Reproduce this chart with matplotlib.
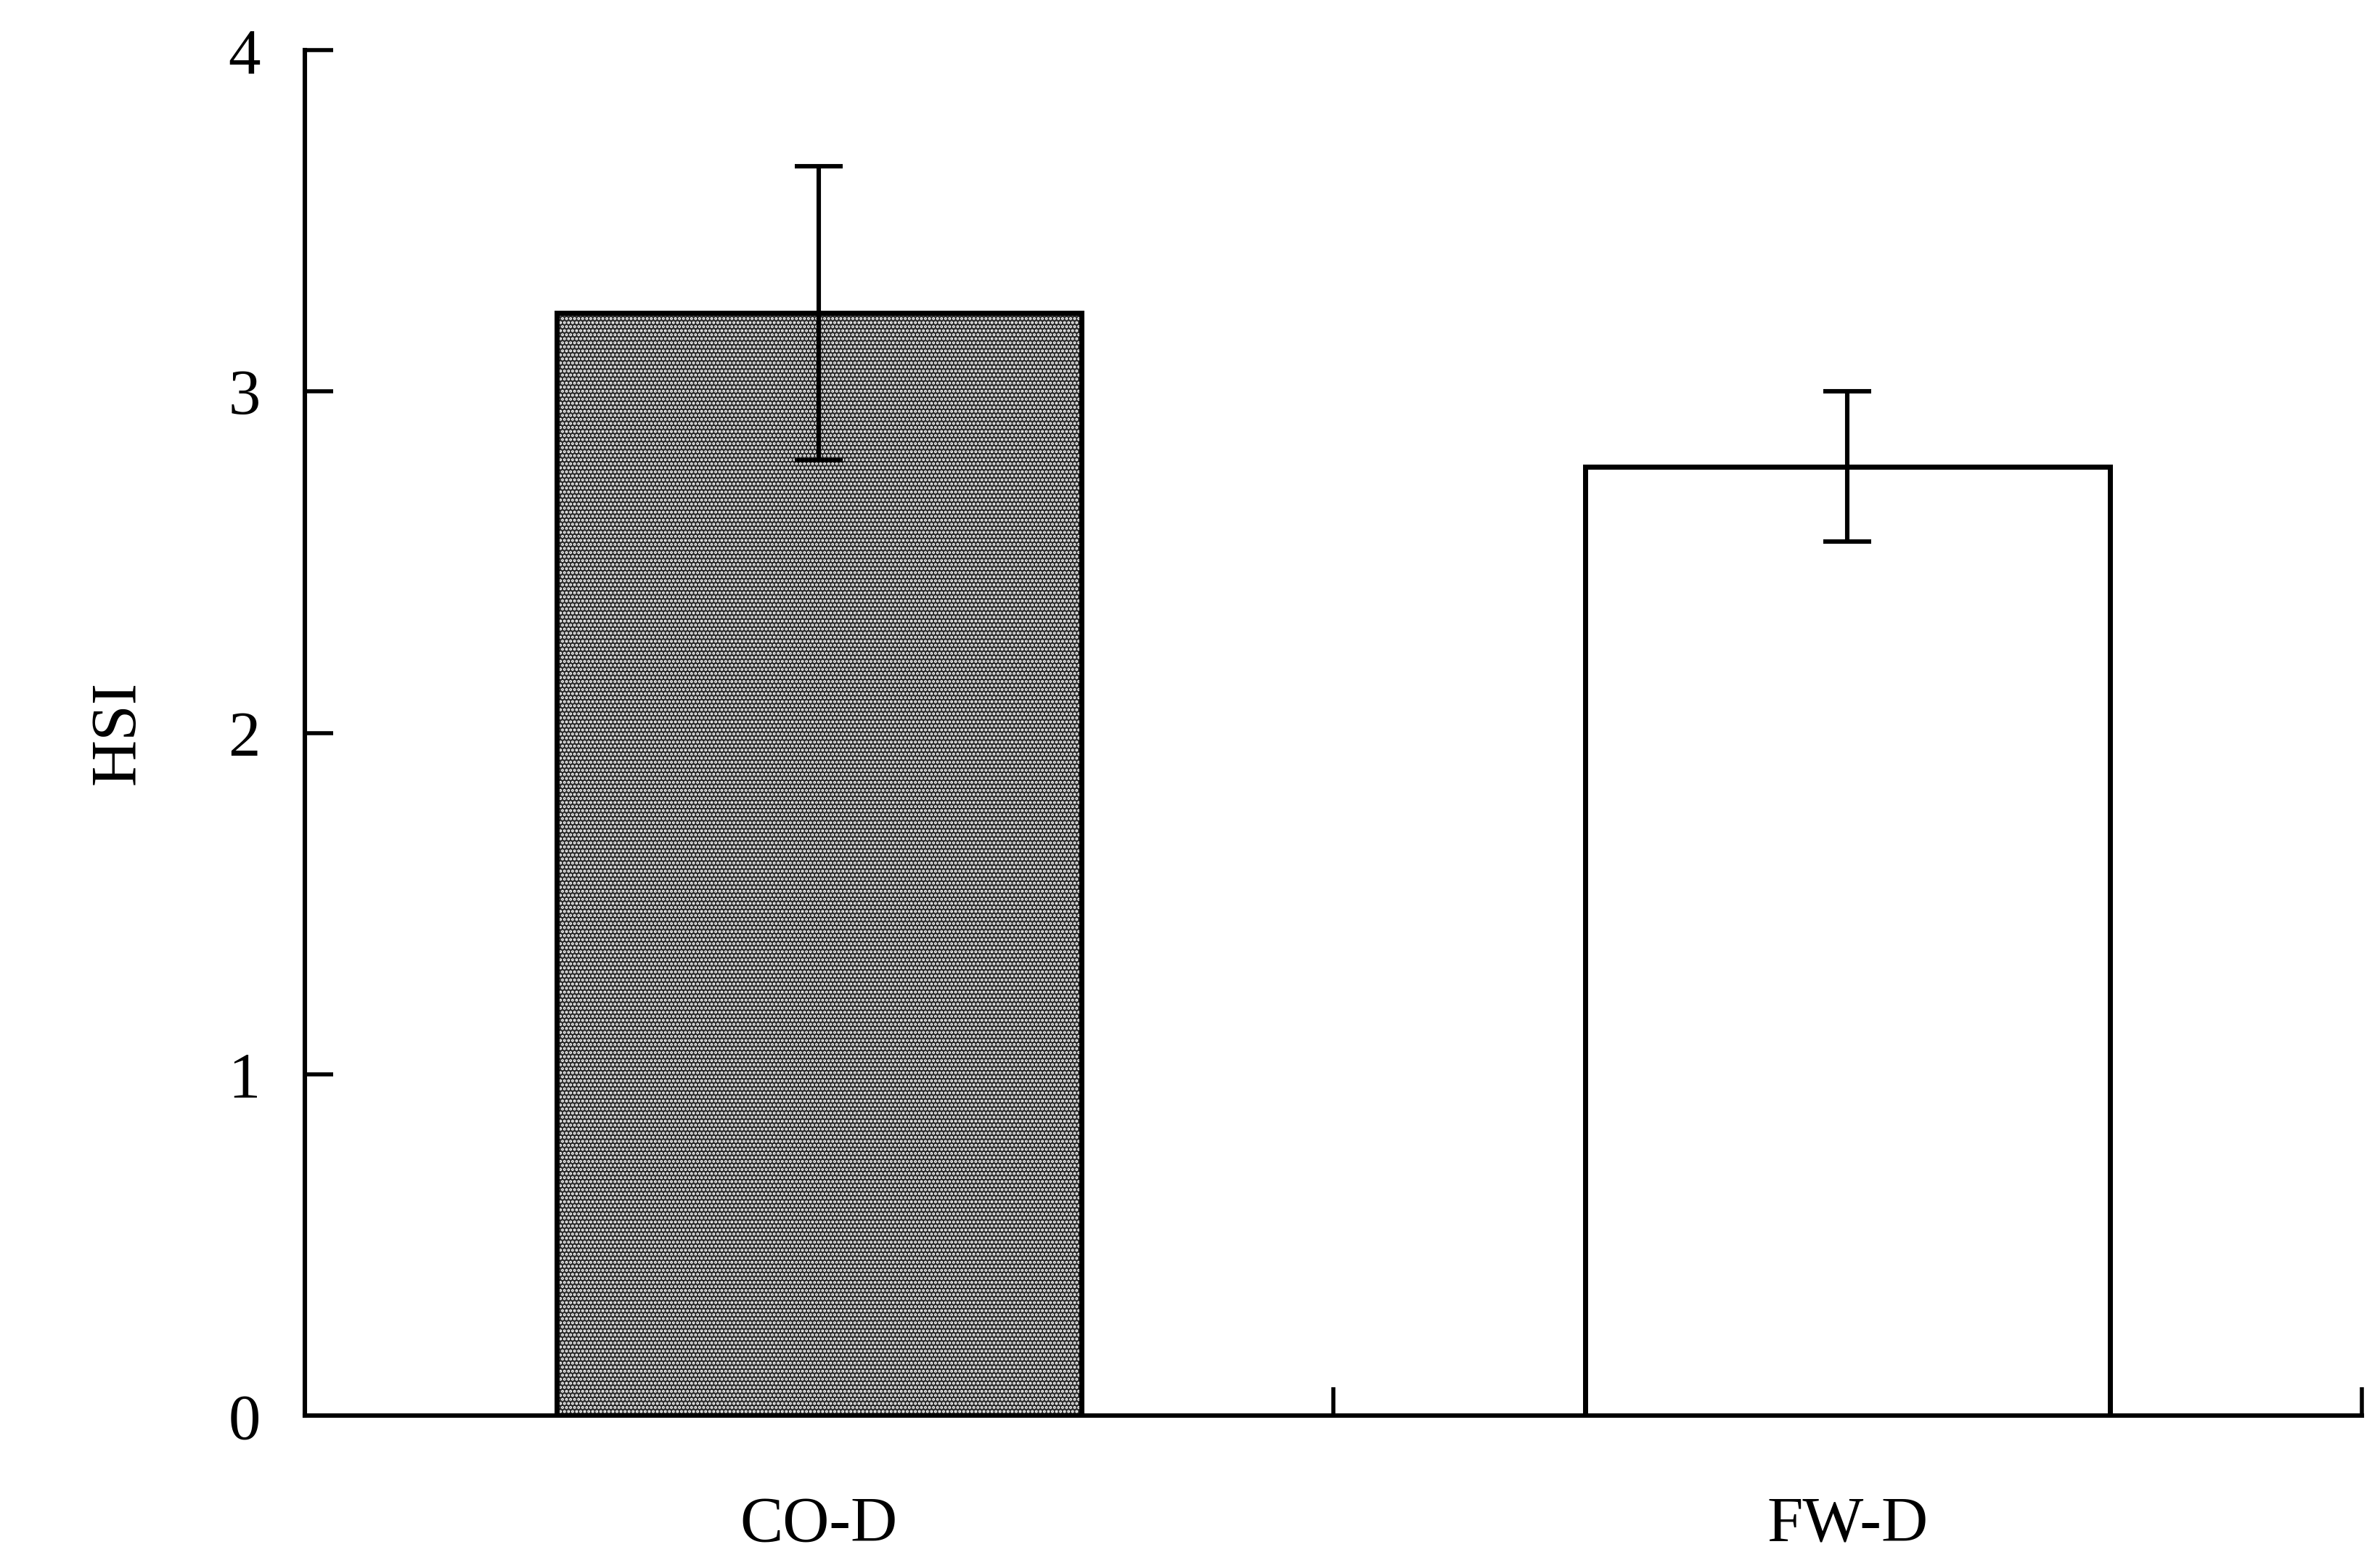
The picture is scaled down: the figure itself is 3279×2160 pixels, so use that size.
import matplotlib.pyplot as plt

groups = ["CO-D", "FW-D"]
hsi = [3.23, 2.78]
hsi_err = [0.43, 0.22]
yticks = [0, 1, 2, 3, 4]

plt.rcParams.update({"font.family": "Liberation Serif", "font.size": 32})

fig = plt.figure(figsize=(16.4, 10.8), dpi=200)
ax = fig.add_axes([0.128, 0.097, 0.864, 0.871])

pos = [0.5, 1.5]
# dark dotted fill for first bar, plain white for the second
ax.bar(pos[0], hsi[0], width=0.51, color="#2a2a2a", linewidth=0, zorder=1)
ax.bar(pos[0], hsi[0], width=0.51, color="none", edgecolor="white",
       hatch="......", linewidth=0, zorder=2)
ax.bar(pos, hsi, width=0.51, color="none", edgecolor="black", linewidth=2.5, zorder=3)
ax.bar(pos[1], hsi[1], width=0.51, color="white", edgecolor="black", linewidth=2.5, zorder=0)
ax.errorbar(pos, hsi, yerr=hsi_err, fmt="none", ecolor="black",
            elinewidth=2.2, capsize=12, capthick=2.2, zorder=4)

ax.set_xlim(0, 2)
ax.set_ylim(0, 4)
ax.set_yticks(yticks)
ax.set_xticks([1, 2])
ax.set_xticklabels([])
ax.tick_params(axis="both", direction="in", length=14, width=2)
for p, g in zip(pos, groups):
    ax.text(p, -0.32, g, ha="center", va="center", fontsize=32)
ax.tick_params(axis="y", pad=22)
ax.set_ylabel("HSI", labelpad=40)

ax.spines["top"].set_visible(False)
ax.spines["right"].set_visible(False)
ax.spines["left"].set_linewidth(2.2)
ax.spines["bottom"].set_linewidth(2.2)

fig.savefig("out.png")
